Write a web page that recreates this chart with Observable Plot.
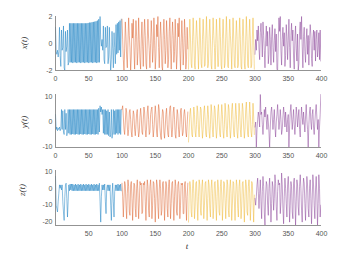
<!DOCTYPE html>
<html><head><meta charset="utf-8">
<script src="https://cdn.jsdelivr.net/npm/d3@7"></script>
<script src="https://cdn.jsdelivr.net/npm/@observablehq/plot@0.6"></script>
<style>
body{margin:0;background:#fff;width:348px;height:256px;overflow:hidden;position:relative;font-family:"Liberation Sans",Arial,sans-serif}
.p{position:absolute;left:0}
.lab{position:absolute;font-family:"Liberation Serif",serif;font-style:italic;font-size:9px;color:#333;white-space:nowrap;line-height:1}
.rot{transform:translate(-50%,-50%) rotate(-90deg)}
.hor{transform:translate(-50%,-50%)}
</style></head><body>
<script>
const segColors = ["#0072BD","#D95319","#EDB120","#7E2F8E"];
const segStart = [0,100,200,300];
const xTickValues = [0,50,100,150,200,250,300,350,400];
const zXTickValues = [50,100,150,200,250,300,350,400];
const yLabels = ["x(t)","y(t)","z(t)"];
const xLabel = "t";

// x(t)
const xSeg1 = [1.2,-0.6,-0.8,-0.5,-1.0,-0.6,1.2,-0.9,-1.7,1.0,
-0.5,-0.3,1.3,-1.8,-2.0,0.9,-0.6,-0.2,1.0,-1.6,
-1.4,1.5,-1.4,1.5,-1.4,1.5,-1.45,1.5,-1.4,1.5,
-1.4,1.5,-1.45,1.5,-1.4,1.5,-1.4,1.5,-1.45,1.5,
-1.4,1.5,-1.4,1.5,-1.45,1.5,-1.4,1.5,-1.4,1.52,
-1.45,1.55,-1.4,1.55,-1.4,1.58,-1.45,1.6,-1.4,1.62,
-1.4,1.65,-1.45,1.7,-1.4,1.8,-1.4,2.0,0.3,-0.2,
0.3,-0.5,1.3,-1.2,-1.5,1.2,-0.3,-0.2,1.3,-1.5,
-1.0,1.2,-0.8,-2.0,-1.2,0.9,-0.4,-1.8,0.8,-0.3,
-1.5,1.4,-0.8,1.5,-0.7,1.6,-0.5,1.7,-1.0,1.8];
const xSeg2 = [1.8,0.3,-1.2,-2.0,-0.4,1.6,0.5,-1.0,-1.8,0.2,
1.9,0.6,-0.3,-2.0,-1.0,1.5,0.4,1.8,-0.5,-1.9,
0.1,1.7,0.5,-1.6,-0.6,1.9,0.3,-1.2,-1.9,0.4,
1.6,-0.2,-1.7,0.5,1.8,0.6,-1.5,-1.9,0.3,1.8,
0.4,-0.5,-1.8,0.0,1.7,0.5,-1.4,-0.4,1.9,0.2,
-1.9,-1.0,1.4,0.5,2.0,-0.3,-1.8,0.2,1.6,0.4,
-1.7,-2.0,0.6,1.8,0.3,-1.5,-0.5,1.7,0.5,-1.8,
-1.2,0.9,1.9,-0.4,-1.9,0.3,1.6,0.6,-1.4,-0.6,
1.8,0.2,-1.9,-0.8,1.5,0.5,1.9,-0.5,-2.0,0.1,
1.7,0.4,-1.6,-0.4,1.8,0.6,-1.9,-1.2,1.2,-0.4];
const xSeg3 = [-1.9,0.3,1.8,0.4,-1.5,-1.8,0.2,1.9,0.5,-1.6,
-1.9,0.3,1.7,0.6,-0.4,-1.9,-0.2,1.9,0.4,-1.5,
-1.8,0.3,1.8,0.5,-1.7,-1.6,0.4,2.0,0.3,-1.8,
-1.5,0.5,1.8,0.4,-1.6,-1.9,0.2,1.9,0.6,-0.3,
-1.9,0.0,1.8,0.4,-1.7,-1.7,0.3,1.9,0.5,-1.6,
-1.9,0.4,1.8,0.3,-1.8,-1.5,0.5,2.0,0.4,-1.7,
-1.8,0.2,1.8,0.6,-0.4,-1.9,0.1,1.9,0.4,-1.6,
-1.8,0.3,1.7,0.5,-1.8,-1.6,0.4,1.9,0.3,-1.7,
-1.9,0.5,1.8,0.4,-1.5,-1.9,0.2,2.0,0.5,-1.6,
-1.8,0.3,1.8,0.4,-1.8,-1.6,0.4,1.9,0.3,-1.9];
const xSeg4 = [-0.8,0.3,-0.5,1.0,0.2,1.3,-0.4,-1.2,0.8,1.5,
0.4,-1.0,1.6,0.6,-0.5,-1.8,0.2,1.3,-0.2,0.9,
-1.5,-0.8,1.2,0.3,-1.6,0.5,1.4,-0.3,-1.4,0.2,
1.1,-0.6,0.7,-1.9,-2.0,0.4,1.9,0.9,2.0,-0.5,
-1.6,0.3,1.2,-0.2,0.8,-1.7,-0.9,1.4,0.5,-1.2,
0.2,1.8,-0.3,-1.8,0.6,1.5,0.2,1.0,-1.0,-1.9,
0.4,1.3,-0.4,-1.3,0.7,-2.0,-1.5,0.9,1.6,0.3,
2.0,-0.2,-1.8,0.5,1.2,-0.6,-1.4,0.3,1.1,-0.8,
0.6,-1.6,0.2,1.4,0.7,-1.1,-1.7,0.4,1.0,-0.5,
0.9,-1.3,0.3,1.0,-1.0,-0.4,0.8,-1.2,1.0,-1.3];

// y(t)
const ySeg1 = [3,-3,-2,-3.5,-2.5,-3,-2,-3.5,-2.5,5,
-3,4.5,-4,-5,5,-3,3.5,-5.5,-4,5,
-4.5,5,-5,5,-5,5,-4.8,5,-5,5,
-5,5,-4.8,5,-5,5,-5,5,-4.8,5,
-5,5,-5,5,-4.8,5,-5,5,-5,5,
-4.8,5,-5,5,-5,5,-4.8,5,-5,5,
-5,5,-4.8,5,-5,5.5,-4,6.5,4,6,
3,5,-4.5,5,-5,5,-5,4.5,-5,5,
-5.5,4,-6,-5,5,-6.5,-4,5,-5,4.5,
-5,5,-4.5,5,-5,5,-4.5,5,-5,5];
const ySeg2 = [5,6.5,2,-3,-5,0,5.5,4,-2,-5.5,
-3,4,5,1,-4,-6,0,4.5,3,-3,
-5.5,-1,3.5,5,-2,-6,-4,2,5.5,2,
-4,-5,1,6,4,-3,-6,-2,4,6.5,
1,-5,-4,3,5,6,-1,-6,-3,2,
6.5,3,-4,-6,0,7,5,-2,-5.5,-7,
1,5,4,-4,-6.5,-2,3,5.5,-1,-5,
-6,2,6,6.5,-2,-6,-3,4,6,1,
-5,-6.5,0,5,3,-3,-6,-2,4.5,5.5,
-1,-5.5,-4,3,5,2,-4,-6,-1,4];
const ySeg3 = [-8,-2,3,5.5,1,-5,-6,0,6,3,
-4,-6,-1,6.5,4,-3,-6,0,6,5,
-2,-6.5,-3,4,6.5,1,-5,-6,1,6.5,
3,-4,-6.5,-1,7,4,-3,-6,0,6.5,
5,-2,-6.5,-3,4,7,1,-5,-6,1,
7,3,-4,-6.5,-1,7.5,4,-3,-6,0,
7,5,-2,-6.5,-3,5,7.5,1,-5,-6,
1,7.5,3,-4,-6.5,-1,7.5,4,-3,-6,
0,7.5,5,-2,-6.5,-3,5,8,1,-5,
-6,1,8,3,-4,-6,-1,7.5,2,-5];
const ySeg4 = [-2,0,-10,-3,1,4,2,-2,11,3,
4,-1,-5,0,5,2,6,1,-3,3,
0,-4,-10,-2,4,6,2,-3,1,5,
-2,-6,0,3,7,2,-3,0,5,1,
-5,-3,2,6,3,-2,4,0,-4,1,
3,-10,-2,4,7,2,-3,1,5,-1,
-5,0,6,3,-2,2,5,-3,-6,1,
6,2,-1,4,0,-4,2,7,1,-3,
-10,-1,4,6,0,-3,3,5,-2,-5,
0,4,7,2,-3,1,-10,-2,3,11];

// z(t)
const zSeg1 = [7,-10,-12,-14,-8,-3,2,0,2,-1,
2,-8,-14,-19,-5,2,3,-6,-17,-8,
2,-1.5,2.5,-1,2.5,-1.5,2.5,-1.5,2,-1.5,
2.5,-1.5,2,-1.5,2.5,-1.5,2,-1.5,2.5,-1.5,
2,-1.5,2.5,-1.5,2,-1.5,2.5,-1.5,2,-1.5,
2.5,-1.5,2,-1.5,2.5,-1.5,2,-1.5,2.5,-1.5,
2,-1.5,2.5,-1.5,2,-1.5,3,-8,-20,-5,
2,-1,2,-1,2.5,-8,-15,0,2,-1.5,
2,-1.5,2,-10,-19,-4,3,-8,-17,-2,
2,-1.5,2,-1.5,2.5,-1.5,2,-1.5,2.5,-1.5];
const zSeg2 = [3,-5,-17,-6,4,2,-10,-18,-3,5,
1,-14,-16,2,4,-6,-19,-7,3,2,
-12,-17,0,5,-4,-18,-9,4,2,3,
-15,-14,3,2,4,-8,-19,-4,5,1,
-13,-17,1,5,-3,-18,-10,4,3,-6,
-20,-6,5,2,-11,-18,-1,5,0,-16,
-13,3,4,-5,-19,-7,4,2,-12,-17,
1,5,-4,-18,-9,3,4,-7,-19,-5,
5,1,-14,-16,2,4,-3,-18,-10,3,
2,3,-15,-15,2,4,-6,-19,-5,3];
const zSeg3 = [-20,-4,4,1,-14,-17,0,5,-3,-18,
-11,3,4,-8,-19,-5,5,2,-13,-16,
1,5,-4,-18,-10,3,4,-7,-19,-6,
5,2,-12,-17,0,5,-3,-18,-11,3,
4,-8,-19,-5,5,1,-14,-16,1,5,
-4,-19,-9,4,3,-7,-18,-6,5,2,
-13,-17,0,5,-3,-19,-10,4,3,-8,
-19,-4,5,1,-12,-17,1,5,-4,-18,
-11,3,4,-7,-20,-5,5,2,-14,-16,
1,5,-3,-19,-9,4,3,-8,-20,-4];
const zSeg4 = [-6,-10,-5,2,6,-2,-12,-3,5,-8,
-18,-2,7,1,-14,-22,-4,4,2,-10,
-16,0,6,-5,-20,-9,4,1,-13,-6,
8,3,-11,-19,-2,5,2,3,-15,-8,
9,2,-12,-21,-5,6,0,-9,-17,2,
7,-3,-20,-10,4,1,-14,-18,3,6,
-6,-22,-8,5,2,-11,-16,1,8,0,
-13,-20,-3,6,3,-9,-19,-4,7,2,
-12,-17,0,5,-6,-21,-7,8,2,-10,
-18,-1,7,-4,-22,-9,8,0,-17,-10];

function rows(segs){
  return segs.flatMap((vals,k)=>vals.map((v,i)=>({t:segStart[k]+i, v, s:k})));
}

function panel(segs, yDomain, yTicks, xTicks, top, height, mt, mb){
  const svg = Plot.plot({
    width:348, height, marginLeft:55, marginRight:27, marginTop:mt, marginBottom:mb,
    style:{fontSize:"7px", fontFamily:"'Liberation Sans',Arial,sans-serif", color:"#555", background:"transparent"},
    x:{domain:[0,400], ticks:xTicks, tickSize:0, tickPadding:6, label:null, tickFormat:d=>String(d)},
    y:{domain:yDomain, ticks:yTicks, tickSize:0, tickPadding:3, label:null, tickFormat:d=>String(d)},
    color:{type:"ordinal", domain:[0,1,2,3], range:segColors},
    marks:[
      Plot.line(rows(segs),{x:"t", y:"v", z:"s", stroke:"s", strokeWidth:0.45, clip:true}),
      Plot.ruleX([0],{stroke:"#777", strokeWidth:0.8}),
      Plot.ruleY([yDomain[0]],{stroke:"#777", strokeWidth:0.8})
    ]
  });
  svg.classList.add("p");
  svg.style.top = top+"px";
  document.body.appendChild(svg);
}

panel([xSeg1,xSeg2,xSeg3,xSeg4], [-2,2], [-2,0,2], xTickValues, 0, 82, 16, 12);
panel([ySeg1,ySeg2,ySeg3,ySeg4], [-10.2,11], [-10,0,10], xTickValues, 80, 80, 14, 13);
panel([zSeg1,zSeg2,zSeg3,zSeg4], [-22,10.5], [-20,-10,0,10], zXTickValues, 160, 78, 10, 13);

function addLabel(text, x, y, cls){
  const d = document.createElement("div");
  d.className = "lab " + cls;
  d.style.left = x+"px"; d.style.top = y+"px";
  d.textContent = text;
  document.body.appendChild(d);
}
addLabel(yLabels[0], 24, 43, "rot");
addLabel(yLabels[1], 24, 122, "rot");
addLabel(yLabels[2], 22, 190, "rot");
addLabel(xLabel, 187, 246, "hor");
</script>
</body></html>
